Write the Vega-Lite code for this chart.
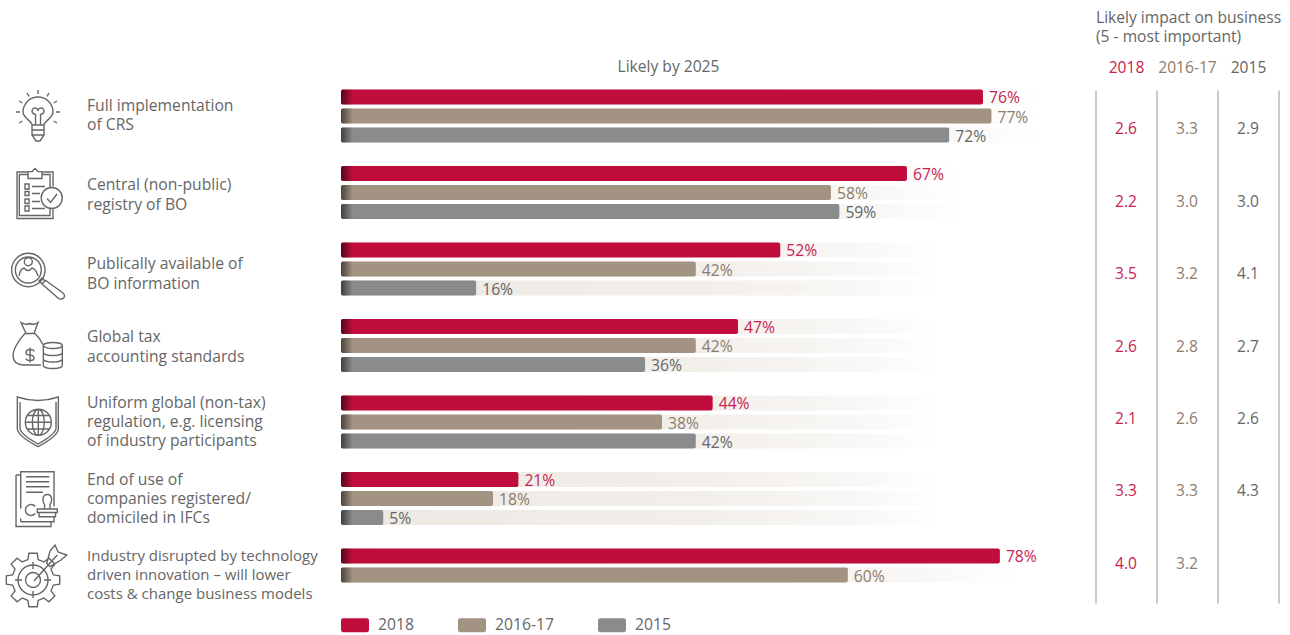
{
"$schema":"https://vega.github.io/schema/vega-lite/v6.json",
"padding":{"top":10,"left":0,"right":0,"bottom":8},
"background":"white",
"config":{"view":{"stroke":null},"font":"Open Sans","concat":{"spacing":55.5}},
"datasets":{
"rows":[
{"cat":"Full implementation\nof CRS","series":"2018","value":76,"label":"76%","track":82.7},
{"cat":"Full implementation\nof CRS","series":"2016-17","value":77,"label":"77%","track":82.7},
{"cat":"Full implementation\nof CRS","series":"2015","value":72,"label":"72%","track":82.7},
{"cat":"Central (non-public)\nregistry of BO","series":"2018","value":67,"label":"67%","track":73.7},
{"cat":"Central (non-public)\nregistry of BO","series":"2016-17","value":58,"label":"58%","track":73.7},
{"cat":"Central (non-public)\nregistry of BO","series":"2015","value":59,"label":"59%","track":73.7},
{"cat":"Publically available of\nBO information","series":"2018","value":52,"label":"52%","track":71},
{"cat":"Publically available of\nBO information","series":"2016-17","value":42,"label":"42%","track":71},
{"cat":"Publically available of\nBO information","series":"2015","value":16,"label":"16%","track":71},
{"cat":"Global tax\naccounting standards","series":"2018","value":47,"label":"47%","track":71},
{"cat":"Global tax\naccounting standards","series":"2016-17","value":42,"label":"42%","track":71},
{"cat":"Global tax\naccounting standards","series":"2015","value":36,"label":"36%","track":71},
{"cat":"Uniform global (non-tax)\nregulation, e.g. licensing\nof industry participants","series":"2018","value":44,"label":"44%","track":71},
{"cat":"Uniform global (non-tax)\nregulation, e.g. licensing\nof industry participants","series":"2016-17","value":38,"label":"38%","track":71},
{"cat":"Uniform global (non-tax)\nregulation, e.g. licensing\nof industry participants","series":"2015","value":42,"label":"42%","track":71},
{"cat":"End of use of\ncompanies registered/\ndomiciled in IFCs","series":"2018","value":21,"label":"21%","track":71},
{"cat":"End of use of\ncompanies registered/\ndomiciled in IFCs","series":"2016-17","value":18,"label":"18%","track":71},
{"cat":"End of use of\ncompanies registered/\ndomiciled in IFCs","series":"2015","value":5,"label":"5%","track":71},
{"cat":"Industry disrupted by technology\ndriven innovation – will lower\ncosts & change business models","series":"2018","value":78,"label":"78%","track":80},
{"cat":"Industry disrupted by technology\ndriven innovation – will lower\ncosts & change business models","series":"2016-17","value":60,"label":"60%","track":80}
],
"cats":[
{"cat":"Full implementation\nof CRS","icon":"bulb"},
{"cat":"Central (non-public)\nregistry of BO","icon":"clip"},
{"cat":"Publically available of\nBO information","icon":"lens"},
{"cat":"Global tax\naccounting standards","icon":"bag"},
{"cat":"Uniform global (non-tax)\nregulation, e.g. licensing\nof industry participants","icon":"shield"},
{"cat":"End of use of\ncompanies registered/\ndomiciled in IFCs","icon":"doc"},
{"cat":"Industry disrupted by technology\ndriven innovation – will lower\ncosts & change business models","icon":"gear"}
],
"impact":[
{"row":"CRS","series":"2018","score":2.6},{"row":"CRS","series":"2016-17","score":3.3},{"row":"CRS","series":"2015","score":2.9},
{"row":"Central","series":"2018","score":2.2},{"row":"Central","series":"2016-17","score":3.0},{"row":"Central","series":"2015","score":3.0},
{"row":"Public","series":"2018","score":3.5},{"row":"Public","series":"2016-17","score":3.2},{"row":"Public","series":"2015","score":4.1},
{"row":"Tax","series":"2018","score":2.6},{"row":"Tax","series":"2016-17","score":2.8},{"row":"Tax","series":"2015","score":2.7},
{"row":"Uniform","series":"2018","score":2.1},{"row":"Uniform","series":"2016-17","score":2.6},{"row":"Uniform","series":"2015","score":2.6},
{"row":"IFC","series":"2018","score":3.3},{"row":"IFC","series":"2016-17","score":3.3},{"row":"IFC","series":"2015","score":4.3},
{"row":"Tech","series":"2018","score":4.0},{"row":"Tech","series":"2016-17","score":3.2}
]
},
"hconcat":[
{
"width":1040,"height":513,
"data":{"name":"rows"},
"encoding":{
"y":{"field":"cat","type":"nominal","axis":null,"sort":null,"scale":{"domain":["Full implementation\nof CRS","Central (non-public)\nregistry of BO","Publically available of\nBO information","Global tax\naccounting standards","Uniform global (non-tax)\nregulation, e.g. licensing\nof industry participants","End of use of\ncompanies registered/\ndomiciled in IFCs","Industry disrupted by technology\ndriven innovation – will lower\ncosts & change business models"],"range":[-12.25,523.25],"paddingInner":0.307,"paddingOuter":0.1535}}
},
"layer":[
{
"mark":{"type":"bar","fill":{"gradient":"linear","x1":0,"x2":1,"y1":0,"y2":0,"stops":[{"offset":0,"color":"#ece8e2"},{"offset":0.6,"color":"#f2efeb"},{"offset":0.85,"color":"#f9f7f5"},{"offset":1,"color":"#ffffff"}]}},
"encoding":{
"x":{"field":"track","type":"quantitative","stack":null,"scale":{"domain":[-40.37,82.75],"nice":false,"zero":false},"axis":{"orient":"top","domain":false,"ticks":false,"labels":false,"grid":false,"title":"Likely by 2025","titleFontWeight":"normal","titleFontSize":15.6,"titleColor":"#666666","titleX":668,"titleY":-24,"titleAlign":"center","titleBaseline":"middle"}},
"x2":{"datum":0},
"yOffset":{"field":"series","type":"nominal","sort":null,"scale":{"domain":["2018","2016-17","2015"],"paddingInner":0.2105,"paddingOuter":0}}
}
},
{
"mark":{"type":"bar","cornerRadius":2},
"encoding":{
"x":{"field":"value","type":"quantitative","stack":null},
"x2":{"datum":0},
"yOffset":{"field":"series","type":"nominal","sort":null},
"color":{"field":"series","type":"nominal","sort":null,"scale":{"domain":["2018","2016-17","2015"],"range":["#c00d3c","#a39382","#8a8b8d"]},"legend":{"orient":"none","legendX":341,"legendY":521,"direction":"horizontal","columns":3,"columnPadding":44,"title":null,"symbolType":"M-0.85,-0.5H0.85Q1,-0.5 1,-0.35V0.35Q1,0.5 0.85,0.5H-0.85Q-1,0.5 -1,0.35V-0.35Q-1,-0.5 -0.85,-0.5Z","symbolSize":784,"symbolStrokeWidth":0,"labelFontSize":15.7,"labelColor":"#666666","labelOffset":9}}
}
},
{
"mark":{"type":"bar","cornerRadius":2,"fill":{"gradient":"linear","x1":0,"x2":1,"y1":0,"y2":0,"stops":[{"offset":0,"color":"rgba(0,0,0,0.55)"},{"offset":1,"color":"rgba(0,0,0,0)"}]}},
"encoding":{
"x":{"datum":0},
"x2":{"datum":1.4},
"yOffset":{"field":"series","type":"nominal","sort":null}
}
},
{
"mark":{"type":"text","align":"left","baseline":"middle","dx":6,"dy":1.5,"fontSize":15.7},
"encoding":{
"x":{"field":"value","type":"quantitative"},
"yOffset":{"field":"series","type":"nominal","sort":null},
"text":{"field":"label","type":"nominal"},
"fill":{"field":"series","type":"nominal","sort":null,"scale":{"domain":["2018","2016-17","2015"],"range":["#c8234f","#8c7c6c","#666666"]},"legend":null}
}
},
{
"data":{"name":"cats"},"transform":[{"filter":"datum.icon==='bulb'"}],
"mark":{"type":"text","align":"left","baseline":"middle","fontSize":15.7,"lineBreak":"\n","lineHeight":19.5,"color":"#666666","dy":-10.5},
"encoding":{"x":{"datum":-30.07},"text":{"field":"cat","type":"nominal"}}
},
{
"data":{"name":"cats"},"transform":[{"filter":"datum.icon==='clip'"}],
"mark":{"type":"text","align":"left","baseline":"middle","fontSize":15.7,"lineBreak":"\n","lineHeight":19.5,"color":"#666666","dy":-7.5},
"encoding":{"x":{"datum":-30.07},"text":{"field":"cat","type":"nominal"}}
},
{
"data":{"name":"cats"},"transform":[{"filter":"datum.icon==='lens'"}],
"mark":{"type":"text","align":"left","baseline":"middle","fontSize":15.7,"lineBreak":"\n","lineHeight":19.5,"color":"#666666","dy":-5},
"encoding":{"x":{"datum":-30.07},"text":{"field":"cat","type":"nominal"}}
},
{
"data":{"name":"cats"},"transform":[{"filter":"datum.icon==='bag'"}],
"mark":{"type":"text","align":"left","baseline":"middle","fontSize":15.7,"lineBreak":"\n","lineHeight":19.5,"color":"#666666","dy":-8.5},
"encoding":{"x":{"datum":-30.07},"text":{"field":"cat","type":"nominal"}}
},
{
"data":{"name":"cats"},"transform":[{"filter":"datum.icon==='shield'||datum.icon==='doc'"}],
"mark":{"type":"text","align":"left","baseline":"middle","fontSize":15.7,"lineBreak":"\n","lineHeight":19,"color":"#666666","dy":-19},
"encoding":{"x":{"datum":-30.07},"text":{"field":"cat","type":"nominal"}}
},
{
"data":{"name":"cats"},"transform":[{"filter":"datum.icon==='gear'"}],
"mark":{"type":"text","align":"left","baseline":"middle","fontSize":15,"lineBreak":"\n","lineHeight":19,"color":"#666666","dy":-19},
"encoding":{"x":{"datum":-30.07},"text":{"field":"cat","type":"nominal"}}
},
{
"data":{"name":"cats"},
"mark":{"type":"point","filled":false,"fill":"transparent","size":4,"stroke":"#666666","strokeWidth":1.4,"opacity":1},
"encoding":{
"x":{"datum":-35.75},
"shape":{"field":"icon","type":"nominal","legend":null,"scale":{"domain":["bulb","clip","lens","bag","shield","doc","gear"],"range":[
"M-7,9C-7,5 -16,2 -16,-4A15,15 0 1 1 14,-4C14,2 5,5 5,9M-7,9V19L-3,25H1L5,19V9ZM-7,14H5M-7,19H5M-3.5,-2V9M1.5,-2V9M-3.5,-2A3,3 0 1 1 -1,-5A3,3 0 1 1 1.5,-2M-1,-22V-26M8,-19.6L10,-23M-10,-19.6L-12,-23M14.6,-13L18,-15M-16.6,-13L-20,-15M17,-4H21M-19,-4H-23M14.6,5L18,7M-16.6,5L-20,7",
"M14,-6V-20.5H3M-11,-20.5H-22V26H14V16M11,-5V-18H3M-11,-18H-19.7V23H11V16M-11,-14V-20.5Q-11,-21 -7,-21L-4,-24L-1,-21Q3,-21 3,-20.5V-14ZM-14,-8.5H-10V-3.5H-14ZM-14,-1H-10V3H-14ZM-14,6.5H-10V11H-14ZM-14,13.5H-10V18.5H-14ZM-7,-6H6M-7,1H1M-7,9H1M-7,16H6M23.2,5.5A10.5,10.5 0 1 1 2.2,5.5A10.5,10.5 0 1 1 23.2,5.5ZM8,6L11.5,10L18,1.5",
"M6,1A16.7,16.7 0 1 1 -27.4,1A16.7,16.7 0 1 1 6,1ZM2.3,1A13,13 0 1 1 -23.7,1A13,13 0 1 1 2.3,1ZM-6.7,-7.3A4,4 0 1 1 -14.7,-7.3A4,4 0 1 1 -6.7,-7.3ZM-20,7Q-19,0 -15,-1Q-11,4 -7,-1Q-3,0 -1,7M0,12L3,15L6,12L3,9ZM6,11L24,24Q27,27 24,29.5Q21,31 19,29L3,15",
"M-13,-12L-18,-23Q-13,-20 -9,-22Q-5,-20 -1,-23L-5,-12M-14,-12H-4M-14,-12C-20,-6 -26,4 -26,10C-26,17 -22,19 -16,19.5H2M-4,-12C-1,-9 2,-5 4,-1M-5,6Q-5,4 -9,4Q-13,4 -13,7Q-13,9.5 -9,9.5Q-5,10 -5,12.5Q-5,15 -9,15Q-13,15 -13,13M-9,2V17M4.3,0A9.5,3 0 1 1 23.3,0A9.5,3 0 1 1 4.3,0ZM4.3,0V20A9.5,3 0 0 0 23.3,20V0M4.3,7A9.5,3 0 0 0 23.3,7M4.3,13.5A9.5,3 0 0 0 23.3,13.5",
"M-21.7,-25Q-1,-18 19.3,-25V7Q19,14 -1,24.7Q-21,14 -21.7,7ZM-19,-20V6Q-19,12 -1,22Q17,12 17,6V-20M12.3,0.3A13,13 0 1 1 -13.7,0.3A13,13 0 1 1 12.3,0.3ZM5.3,0.3A6,13 0 1 1 -6.7,0.3A6,13 0 1 1 5.3,0.3ZM-0.7,-12.7V13.3M-13.7,0.3H12.3M-11.5,-6.5H10M-11.5,7H10",
"M-18.3,10V-26.8H15V8M-18.3,23.2H15V18M-18.3,20V23.2M-23,-23.5V28H12V23.2M-23,-23.5H-18.3M-13,-21.8H10.3M-13,-16.8H10.3M-13,-11.8H10.3M-13,-6.2H4M-3.8,8A5.5,5.5 0 1 0 -3.8,15M-1.7,10.5H18.3V14H-1.7ZM0,14V18.2H16.5V14M5.5,10.5V6Q3.5,3.5 4,0Q4.5,-4 8.3,-4Q12,-4 12.5,0Q13,3.5 11,6V10.5",
"M14.4,-0.1L20.7,0.8L20.7,9.2L14.4,10.1L12,15.8L15.8,20.9L9.9,26.8L4.8,23L-0.9,25.4L-1.8,31.7L-10.2,31.7L-11.1,25.4L-16.8,23L-21.9,26.8L-27.8,20.9L-24,15.8L-26.4,10.1L-32.7,9.2L-32.7,0.8L-26.4,-0.1L-24,-5.8L-27.8,-10.9L-21.9,-16.8L-16.8,-13L-11.1,-15.4L-10.2,-21.7L-1.8,-21.7L-0.9,-15.4L4.8,-13L9.9,-16.8L15.8,-10.9L12,-5.8ZM9,5A15,15 0 1 1 -21,5A15,15 0 1 1 9,5ZM1.5,5A7.5,7.5 0 1 1 -13.5,5A7.5,7.5 0 1 1 1.5,5ZM-6,-13V-6M-6,16V23M-24,5H-17M5,5H12M7.7,-11.7L11,-24L16,-30L19,-23L27.7,-20L22,-15L11,-8.3ZM18.3,-20L10,-11L-5,6"
]}}
}
}
]
},
{
"width":183,"height":513,
"data":{"name":"impact"},
"encoding":{
"x":{"field":"series","type":"nominal","sort":null,"scale":{"type":"band","domain":["2018","2016-17","2015"],"paddingInner":0,"paddingOuter":0},
"axis":{"orient":"top","title":["Likely impact on business","(5 - most important)"],"titleFontWeight":"normal","titleFontSize":15.6,"titleColor":"#666666","titleLineHeight":19,"titleAlign":"left","titleAnchor":"start","titleX":0,"titleY":-72.5,"titleBaseline":"middle","domain":false,"ticks":false,"labelAngle":0,"labelFontSize":15.6,"labelPadding":15,"labelColor":{"expr":"datum.value==='2018'?'#c8234f':datum.value==='2016-17'?'#8c7c6c':'#666666'"},"grid":true,"tickBand":"extent","gridColor":"#b8b8b8","gridWidth":1.5}},
"y":{"field":"row","type":"nominal","axis":null,"sort":null,"scale":{"type":"band","domain":["CRS","Central","Public","Tax","Uniform","IFC","Tech"],"paddingInner":0,"paddingOuter":0.0414}}
},
"layer":[
{
"mark":{"type":"text","baseline":"middle","fontSize":15.5},
"encoding":{
"text":{"field":"score","type":"quantitative","format":".1f"},
"fill":{"field":"series","type":"nominal","sort":null,"scale":{"domain":["2018","2016-17","2015"],"range":["#c8234f","#8c7c6c","#666666"]},"legend":null}
}
}
]
}
]
}
